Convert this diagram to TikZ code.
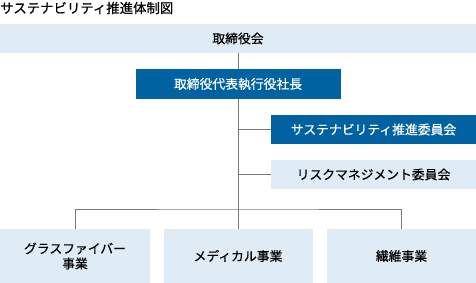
\documentclass[tikz,border=0pt]{standalone}
\usepackage{fontspec}
\setmainfont[RawFeature={embolden=0.6}]{Noto Sans CJK JP}
\definecolor{boardblue}{RGB}{224,236,245}
\definecolor{execblue}{RGB}{0,98,160}
\definecolor{linegray}{RGB}{120,120,120}
\begin{document}
\begin{tikzpicture}[x=1pt,y=-1pt,
    lightbox/.style={fill=boardblue,inner sep=0pt,font=\fontsize{12.8}{15}\selectfont,align=center},
    darkbox/.style={fill=execblue,text=white,inner sep=0pt,font=\fontsize{12.8}{15}\selectfont}]
  \useasboundingbox (0,0) rectangle (476,283);
  \node[anchor=west,inner sep=0pt,font=\fontsize{13.4}{15}\selectfont] (title) at (0,8) {サステナビリティ推進体制図};
  \node[lightbox,minimum width=476pt,minimum height=29pt] (board) at (238,38.5) {取締役会};
  \node[darkbox,minimum width=205pt,minimum height=30pt] (pres) at (238,84) {取締役代表執行役社長};
  \node[darkbox,minimum width=205pt,minimum height=29pt] (sus) at (373.5,129.5) {サステナビリティ推進委員会};
  \node[lightbox,minimum width=205pt,minimum height=29pt] (risk) at (373.5,174.5) {リスクマネジメント委員会};
  \node[lightbox,minimum width=150pt,minimum height=54pt] (glass) at (75,256) {グラスファイバー\\事業};
  \node[lightbox,minimum width=149pt,minimum height=54pt] (medical) at (238,256) {メディカル事業};
  \node[lightbox,minimum width=149pt,minimum height=54pt] (fiber) at (401.5,256) {繊維事業};
  \coordinate (bus) at (238,209);
  \draw[linegray,line width=1pt] (board.south) -- (pres.north);
  \draw[linegray,line width=1pt] (pres.south) -- (medical.north);
  \draw[linegray,line width=1pt] (pres.south |- sus.west) -- (sus.west);
  \draw[linegray,line width=1pt] (pres.south |- risk.west) -- (risk.west);
  \draw[linegray,line width=1pt] (glass.north) |- (bus) -| (fiber.north);
\end{tikzpicture}
\end{document}
